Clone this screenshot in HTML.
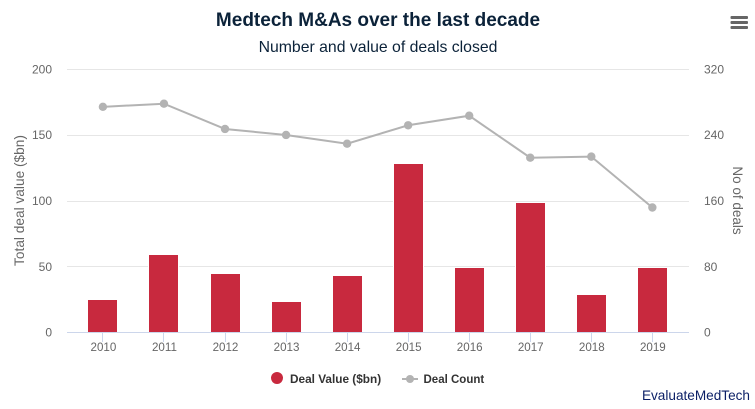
<!DOCTYPE html>
<html>
<head>
<meta charset="utf-8">
<style>
html,body{margin:0;padding:0;background:#fff;}
svg{display:block;font-family:"Liberation Sans",sans-serif;}
</style>
</head>
<body>
<svg id="chart" width="755" height="409" viewBox="0 0 755 409">
  <rect x="0" y="0" width="755" height="409" fill="#ffffff"/>
  <text x="378" y="26" text-anchor="middle" font-size="19" font-weight="700" fill="#0b2239">Medtech M&amp;As over the last decade</text>
  <text x="378" y="52" text-anchor="middle" font-size="15.8" fill="#0b2239">Number and value of deals closed</text>
  <g>
    <rect x="730.5" y="16" width="17.5" height="3" rx="1" fill="#666666"/>
    <rect x="730.5" y="21" width="17.5" height="3" rx="1" fill="#666666"/>
    <rect x="730.5" y="26" width="17.5" height="3" rx="1" fill="#666666"/>
  </g>
  <g id="grid"></g>
  <g id="bars"></g>
  <g id="axis"></g>
  <g id="line"></g>
  <g id="labels"></g>
  <text transform="translate(24,200.5) rotate(-90)" text-anchor="middle" font-size="13.7" fill="#666666">Total deal value ($bn)</text>
  <text transform="translate(733,200.5) rotate(90)" text-anchor="middle" font-size="13.5" fill="#666666">No of deals</text>
  <g>
    <circle cx="277" cy="378" r="6" fill="#c8293e"/>
    <text x="290" y="383" font-size="11.8" font-weight="700" fill="#333333">Deal Value ($bn)</text>
  </g>
  <g>
    <line x1="402" y1="379" x2="418" y2="379" stroke="#b3b3b3" stroke-width="2"/>
    <circle cx="410" cy="379" r="4" fill="#b3b3b3"/>
    <text x="423.5" y="383" font-size="11.5" font-weight="700" fill="#333333">Deal Count</text>
  </g>
  <text x="750" y="400" text-anchor="end" font-size="13.6" fill="#0b1f66">EvaluateMedTech</text>
</svg>
<script>
const categories = ['2010','2011','2012','2013','2014','2015','2016','2017','2018','2019'];
const dealValue = [24.4, 58.6, 44.2, 23, 42.7, 127.7, 48.7, 98.1, 28.2, 48.7];
const dealCount = [273.8, 277.6, 246.9, 239.6, 229, 251.4, 263, 212, 213.3, 151.5];
const leftTicks = [0, 50, 100, 150, 200];
const rightTicks = [0, 80, 160, 240, 320];
const leftMax = 200;
const rightMax = 320;

const NS = 'http://www.w3.org/2000/svg';
const plotLeft = 67, plotRight = 689, plotTop = 68.8, plotBottom = 332.2;
const firstCenter = 102.9, step = 61.05;
const barWidth = 29;

function xPos(i){ return firstCenter + step * i; }
function yLeft(v){ return plotBottom - (v / leftMax) * (plotBottom - plotTop); }
function yRight(v){ return plotBottom - (v / rightMax) * (plotBottom - plotTop); }
function make(tag, attrs, parent, txt){
  const el = document.createElementNS(NS, tag);
  for (const k in attrs) el.setAttribute(k, attrs[k]);
  if (txt !== undefined) el.textContent = txt;
  parent.appendChild(el);
  return el;
}

const grid = document.getElementById('grid');
const bars = document.getElementById('bars');
const axis = document.getElementById('axis');
const line = document.getElementById('line');
const labels = document.getElementById('labels');

leftTicks.forEach(function(t){
  const y = yLeft(t);
  if (t !== 0) {
    const gy = Math.round(y) + 0.5;
    const g = make('line', {x1: plotLeft, x2: plotRight, y1: gy, y2: gy, stroke: '#e6e6e6', 'stroke-width': 1}, grid);
    
    
  }
  const l = make('text', {x: 52, y: y + 4.5, 'text-anchor': 'end', 'font-size': 12, fill: '#666666'}, labels, String(t));
  
  
});

rightTicks.forEach(function(t){
  const y = yRight(t);
  const l = make('text', {x: 704, y: y + 4.5, 'font-size': 12, fill: '#666666'}, labels, String(t));
  
  
});

dealValue.forEach(function(v, i){
  const top = Math.round(yLeft(v));
  const left = Math.round(xPos(i) - barWidth / 2);
  const b = make('rect', {x: left, y: top, width: barWidth, height: 332 - top, fill: '#c8293e', stroke: '#ffffff', 'stroke-width': 2, 'paint-order': 'stroke'}, bars);
  
  
});

const base = make('line', {x1: plotLeft, x2: plotRight, y1: 332.5, y2: 332.5, stroke: '#ccd6eb', 'stroke-width': 1}, axis);



categories.forEach(function(c, i){
  const x = xPos(i);
  const tx = Math.floor(x) + 0.5;
  const t = make('line', {x1: tx, x2: tx, y1: 332, y2: 342, stroke: '#ccd6eb', 'stroke-width': 1}, axis);
  
  
  const l = make('text', {x: x + 0.5, y: 351, 'text-anchor': 'middle', 'font-size': 11.6, fill: '#666666'}, labels, c);
  
  
});

const pts = dealCount.map(function(v, i){ return xPos(i) + ',' + yRight(v); }).join(' ');
const path = make('polyline', {points: pts, fill: 'none', stroke: '#b3b3b3', 'stroke-width': 2}, line);



dealCount.forEach(function(v, i){
  const p = make('circle', {cx: xPos(i), cy: yRight(v), r: 4.2, fill: '#b3b3b3'}, line);
  
  
});
</script>
</body>
</html>
